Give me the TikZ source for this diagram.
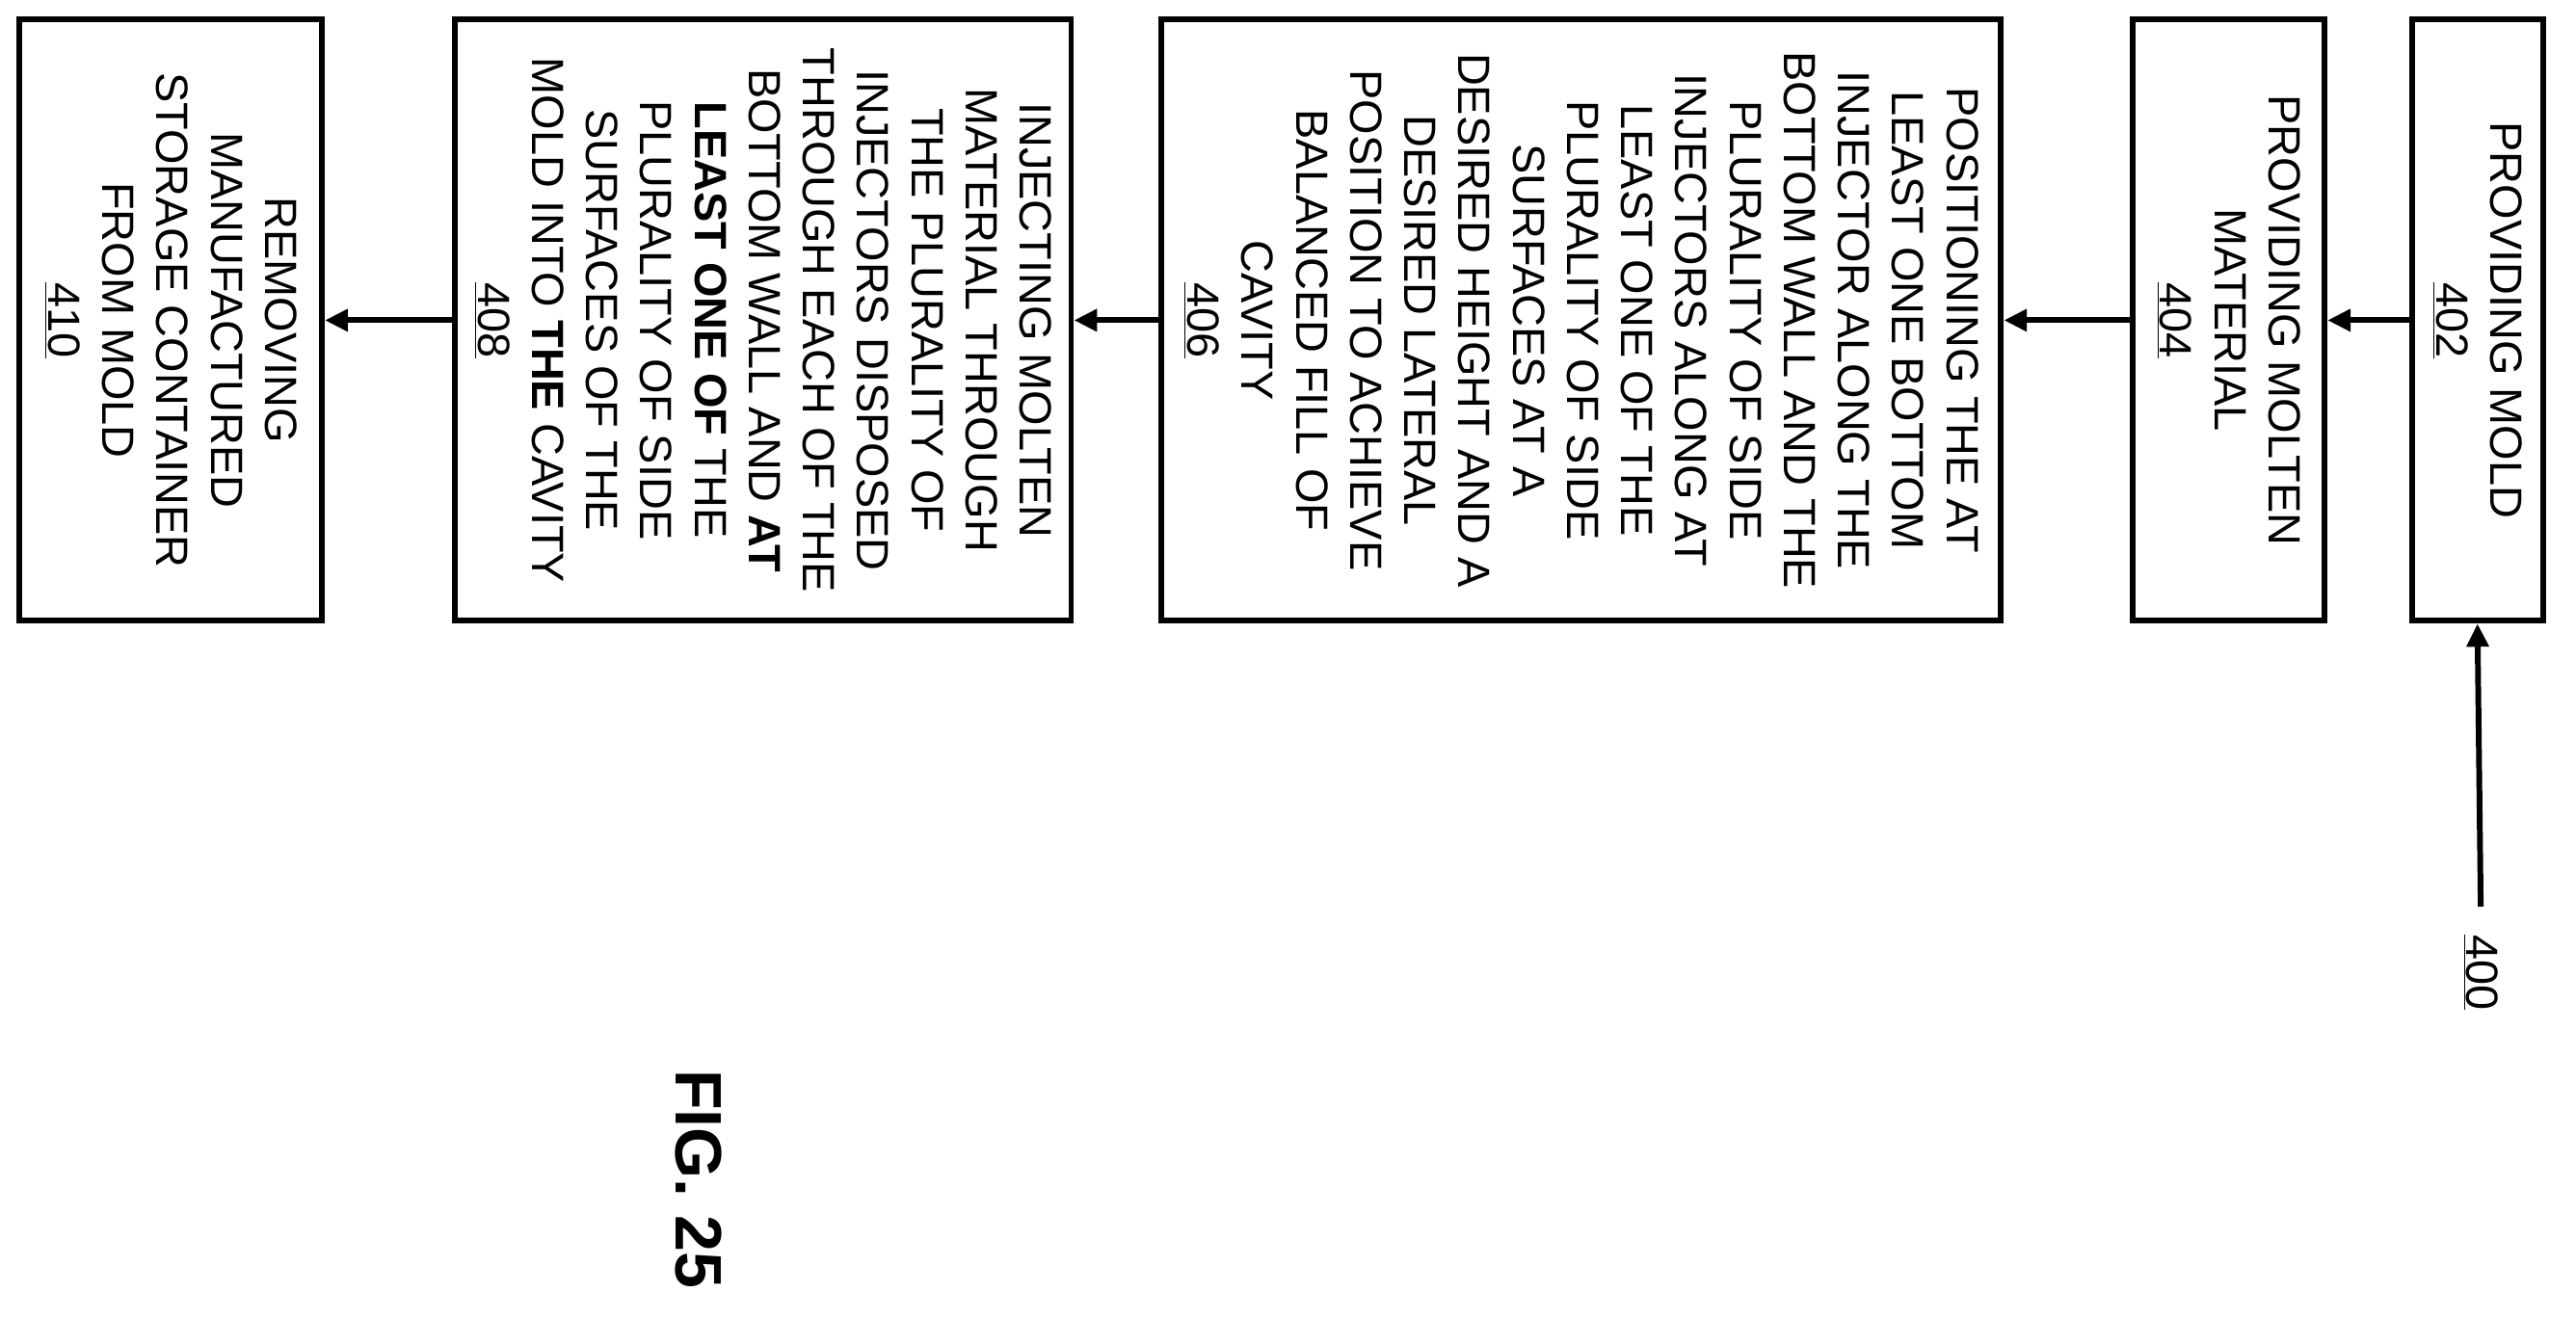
\documentclass[tikz,border=0pt]{standalone}
\usepackage{fontspec}
\setmainfont{Liberation Sans}
\usetikzlibrary{arrows.meta}
\begin{document}
\begin{tikzpicture}[x=1pt,y=-1pt,
  boxst/.style={draw,line width=3.5pt},
  txt/.style={rotate=-90,align=center,font=\fontsize{27.5}{33}\selectfont,inner sep=0pt},
  conn/.style={line width=3.5pt,-{Triangle[length=14pt,width=13pt]}}]
\useasboundingbox (0,0) rectangle (1568,803);
\node[boxst,minimum width=80pt,minimum height=366pt] (b402) at (1508,195) {};
\node[boxst,minimum width=117pt,minimum height=366pt] (b404) at (1356.5,195) {};
\node[boxst,minimum width=511pt,minimum height=366pt] (b406) at (962.5,195) {};
\node[boxst,minimum width=375pt,minimum height=366pt] (b408) at (464.5,195) {};
\node[boxst,minimum width=184pt,minimum height=366pt] (b410) at (104,195) {};
\node[txt] (t402) at (b402) {PROVIDING MOLD\\\underline{402}};
\node[txt] (t404) at (b404) {PROVIDING MOLTEN\\MATERIAL\\\underline{404}};
\node[txt] (t406) at (b406) {POSITIONING THE AT\\LEAST ONE BOTTOM\\INJECTOR ALONG THE\\BOTTOM WALL AND THE\\PLURALITY OF SIDE\\INJECTORS ALONG AT\\LEAST ONE OF THE\\PLURALITY OF SIDE\\SURFACES AT A\\DESIRED HEIGHT AND A\\DESIRED LATERAL\\POSITION TO ACHIEVE\\BALANCED FILL OF\\CAVITY\\\underline{406}};
\node[txt] (t408) at (b408) {INJECTING MOLTEN\\MATERIAL THROUGH\\THE PLURALITY OF\\INJECTORS DISPOSED\\THROUGH EACH OF THE\\BOTTOM WALL AND \textbf{AT}\\\textbf{LEAST ONE OF} THE\\PLURALITY OF SIDE\\SURFACES OF THE\\MOLD INTO \textbf{THE} CAVITY\\\underline{408}};
\node[txt] (t410) at (b410) {REMOVING\\MANUFACTURED\\STORAGE CONTAINER\\FROM MOLD\\\underline{410}};
\node[txt] (l400) at (1510,592) {\underline{400}};
\node[txt,font=\bfseries\fontsize{40}{44}\selectfont] (fig) at (425,718) {FIG. 25};
\coordinate (s400) at (1510,552);
\draw[conn] (s400) -- (b402.south);
\draw[conn] (b402.west) -- (b404.east);
\draw[conn] (b404.west) -- (b406.east);
\draw[conn] (b406.west) -- (b408.east);
\draw[conn] (b408.west) -- (b410.east);
\end{tikzpicture}
\end{document}
